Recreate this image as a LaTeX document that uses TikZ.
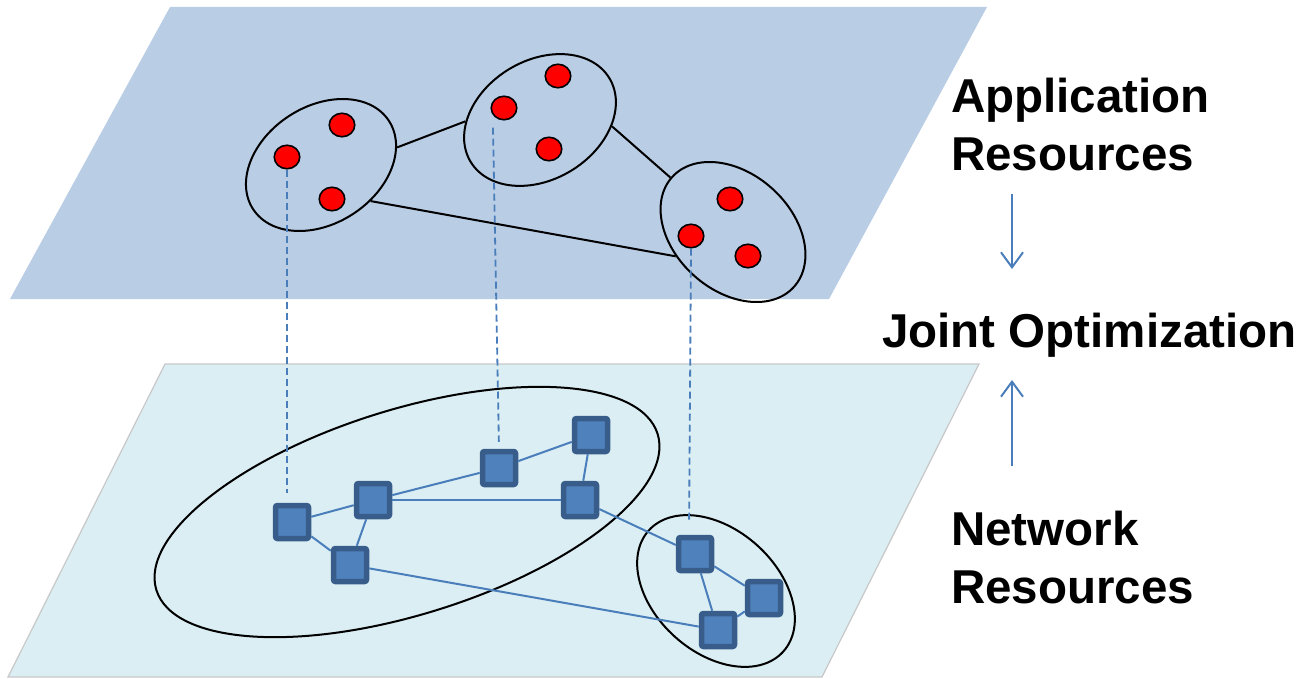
\documentclass[tikz,border=0pt]{standalone}
\usepackage{fontspec}
\setmainfont{Liberation Sans}
\usetikzlibrary{shapes.geometric,arrows.meta}
\definecolor{upperplane}{HTML}{B9CDE5}
\definecolor{lowerplane}{HTML}{DBEEF4}
\definecolor{planeedge}{HTML}{C8C8C8}
\definecolor{sqfill}{HTML}{4F81BD}
\definecolor{sqedge}{HTML}{385D8A}
\definecolor{linkblue}{HTML}{4A7EBB}
\tikzset{
  grp/.style={draw=black, line width=2pt, ellipse, inner sep=0pt},
  appres/.style={ellipse, draw=black, line width=1.6pt, fill=red, minimum width=25.5pt, minimum height=23.5pt, inner sep=0pt},
  netres/.style={rectangle, draw=sqedge, line width=5.5pt, fill=sqfill, minimum size=33pt, rounded corners=2pt, inner sep=0pt},
  applink/.style={draw=black, line width=2pt},
  netlink/.style={draw=linkblue, line width=2pt},
  maplink/.style={draw=linkblue, line width=1.8pt, dash pattern=on 7pt off 4pt},
  label/.style={font=\fontsize{47.5}{58}\selectfont\bfseries, inner sep=0pt, align=left},
  flow/.style={draw=linkblue, line width=2pt, -{Straight Barb[length=15pt,width=22pt]}}
}
\begin{document}
\begin{tikzpicture}[x=1pt,y=-1pt]
\useasboundingbox (0,0) rectangle (1303,679);
% planes
\fill[upperplane] (170,7) -- (987,7) -- (829,299) -- (10,299) -- cycle;
\filldraw[fill=lowerplane, draw=planeedge, line width=1.2pt] (165,364) -- (979,364) -- (822,677) -- (8,677) -- cycle;

% application layer groups
\node[grp, minimum width=162pt, minimum height=117pt, rotate=33] (g1) at (321,165) {};
\node[grp, minimum width=162pt, minimum height=119pt, rotate=31] (g2) at (540,120) {};
\node[grp, minimum width=164pt, minimum height=117pt, rotate=-42] (g3) at (733,232) {};
\draw[applink] (g1.-20) -- (g2.150);
\draw[applink] (g2.-36) -- (g3.181);
\draw[applink] (g1.-69) -- (g3.245);

% application resources
\node[appres] (a11) at (287,157) {};
\node[appres] (a12) at (342,125) {};
\node[appres] (a13) at (332,199) {};
\node[appres] (a21) at (504,108) {};
\node[appres] (a22) at (558,76) {};
\node[appres] (a23) at (549,149) {};
\node[appres] (a31) at (691,236) {};
\node[appres] (a32) at (730,199) {};
\node[appres] (a33) at (748,256) {};

% network layer groups
\node[grp, minimum width=525pt, minimum height=205pt, rotate=17.3] (n1) at (407,512) {};
\node[grp, minimum width=181pt, minimum height=123pt, rotate=-42] (n2) at (716,591) {};

% network resources
\node[netres] (s1) at (292,522) {};
\node[netres] (s2) at (373,500) {};
\node[netres] (s3) at (350,565) {};
\node[netres] (s4) at (499,468) {};
\node[netres] (s5) at (591,435) {};
\node[netres] (s6) at (580,500) {};
\node[netres] (s7) at (695,554) {};
\node[netres] (s8) at (764,598) {};
\node[netres] (s9) at (718,630) {};
\draw[netlink] (s1) -- (s2);
\draw[netlink] (s1) -- (s3);
\draw[netlink] (s2) -- (s3);
\draw[netlink] (s2) -- (s4);
\draw[netlink] (s2) -- (s6);
\draw[netlink] (s4) -- (s5);
\draw[netlink] (s5) -- (s6);
\draw[netlink] (s6) -- (s7);
\draw[netlink] (s3) -- (s9);
\draw[netlink] (s7) -- (s8);
\draw[netlink] (s7) -- (s9);
\draw[netlink] (s8) -- (s9);

% mapping lines
\draw[maplink, shorten >=10pt] (a11.south) -- (a11.south |- s1.north);
\draw[maplink, shorten >=7pt] ([xshift=-11pt,yshift=-7pt]a21.south) -- (s4.north);
\draw[maplink, shorten >=13pt] (a31.south) -- ([xshift=-6pt]s7.north);

% labels
\node[label, anchor=north west] (app) at (951,78) {Application\\Resources};
\node[label, anchor=base west] (joint) at (882,347) {Joint Optimization};
\node[label, anchor=north west] (net) at (951,511) {Network\\Resources};

\coordinate (f1s) at (1012,194);
\coordinate (f1e) at (1012,269);
\coordinate (f2s) at (1012,466);
\coordinate (f2e) at (1012,380);
\draw[flow] (f1s) -- (f1e);
\draw[flow] (f2s) -- (f2e);
\end{tikzpicture}
\end{document}
